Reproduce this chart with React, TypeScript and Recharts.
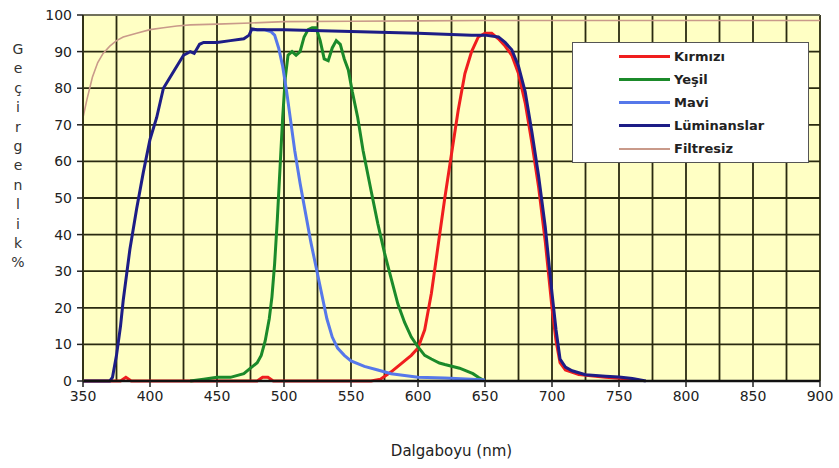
import { CartesianGrid, Line, LineChart, ReferenceLine, XAxis, YAxis } from "recharts";

const xTicks = [350, 400, 450, 500, 550, 600, 650, 700, 750, 800, 850, 900];
const xGrid = [350, 375, 400, 425, 450, 475, 500, 525, 550, 575, 600, 625, 650, 675, 700, 725, 750, 775, 800, 825, 850, 875, 900];
const yTicks = [0, 10, 20, 30, 40, 50, 60, 70, 80, 90, 100];
const yGrid = [10, 20, 30, 40, 50, 60, 70, 80, 90];

const kirmiziNm = [350, 370, 378, 382, 386, 400, 450, 480, 484, 488, 492, 500, 550, 565, 572, 576, 580, 585, 590, 595, 600, 605, 610, 615, 620, 625, 630, 635, 640, 645, 650, 655, 660, 665, 670, 675, 680, 685, 690, 695, 700, 703, 706, 710, 720, 740, 760];
const kirmiziT = [0, 0, 0, 1, 0, 0, 0, 0, 1, 1, 0, 0, 0, 0, 0.5, 1.5, 2.5, 4, 5.5, 7, 9, 14, 24, 37, 50, 62, 74, 84, 90, 94, 95, 95, 93.5, 91.5, 89, 84, 76, 65, 53, 38, 20, 11, 5, 3, 1.8, 1, 0.5];

const yesilNm = [430, 440, 450, 460, 470, 475, 480, 483, 486, 489, 491, 493, 495, 497, 499, 501, 503, 506, 509, 512, 515, 518, 521, 524, 527, 530, 533, 536, 539, 542, 545, 548, 551, 555, 559, 565, 570, 575, 580, 585, 590, 595, 600, 605, 610, 616, 620, 631, 641, 645, 650];
const yesilT = [0, 0.5, 1, 1, 2, 3.5, 5, 7, 11, 17, 23, 32, 44, 58, 72, 83, 89, 90, 89, 90, 94, 96, 96.5, 96.5, 93, 88, 87.5, 91, 93, 92, 88, 85, 79, 72, 63, 52, 43, 35, 28, 21, 16, 12, 9.3, 7, 6, 4.9, 4.5, 3.5, 2, 1, 0];

const maviNm = [476, 480, 485, 490, 493, 496, 499, 502, 505, 508, 512, 516, 520, 524, 528, 532, 536, 540, 545, 550, 560, 570, 580, 590, 600, 620, 640, 650];
const maviT = [96, 96, 96, 95.5, 94.5, 91, 86, 79, 71, 63, 54, 46, 38, 31, 24, 17, 12, 9, 7, 5.5, 4, 3, 2, 1.5, 1, 0.8, 0.5, 0.3];

const luminansNm = [350, 365, 370, 372, 375, 378, 380, 385, 390, 395, 400, 405, 410, 415, 420, 425, 430, 433, 437, 440, 450, 460, 470, 474, 476, 480, 500, 550, 600, 640, 650, 660, 665, 670, 675, 680, 685, 690, 695, 700, 703, 706, 710, 715, 725, 740, 750, 760, 770];
const luminansT = [0, 0, 0, 1, 7, 15, 22, 36, 47, 57, 66, 72, 80, 83, 86, 89, 90, 89.5, 92, 92.5, 92.5, 93, 93.5, 94.5, 96.2, 96, 96, 95.5, 95, 94.5, 94.5, 94, 92.5, 90.5, 86, 79, 68, 56, 42, 24, 14, 6, 3.8, 2.8, 1.7, 1.3, 1.1, 0.7, 0];

const filtresizNm = [350, 353, 357, 361, 365, 370, 375, 380, 390, 400, 410, 420, 430, 450, 475, 500, 550, 600, 650, 700, 750, 800, 850, 900];
const filtresizT = [72, 77, 83, 87, 89.5, 91.5, 93, 94, 95, 96, 96.5, 97, 97.3, 97.5, 97.8, 98.2, 98.3, 98.4, 98.5, 98.5, 98.5, 98.5, 98.5, 98.5];

const yLabel = ["G", "e", "ç", "i", "r", "g", "e", "n", "l", "i", "k", "%"];

const toPoints = (nm: number[], t: number[]) => nm.map((x, i) => ({ x, y: t[i] }));

const series = [
  { name: "Kırmızı", color: "#f01e1e", width: 3, data: toPoints(kirmiziNm, kirmiziT) },
  { name: "Yeşil", color: "#1b8a2a", width: 3, data: toPoints(yesilNm, yesilT) },
  { name: "Mavi", color: "#5678ea", width: 3, data: toPoints(maviNm, maviT) },
  { name: "Lüminanslar", color: "#1d1d86", width: 3, data: toPoints(luminansNm, luminansT) },
  { name: "Filtresiz", color: "#c99a8a", width: 1.6, data: toPoints(filtresizNm, filtresizT) },
];

const font = "DejaVu Sans";

// only every 50 nm gets a label and a tick mark; the 25 nm steps are grid only
function XTick({ x, y, payload }: any) {
  if (!xTicks.includes(payload.value)) return null;
  return (
    <g>
      <line x1={x} x2={x} y1={y - 9} y2={y - 3} stroke="#222" strokeWidth={1.5} />
      <text x={x} y={y} dy="0.75em" textAnchor="middle" fill="#222" fontSize={14} fontFamily={font}>
        {payload.value}
      </text>
    </g>
  );
}

function LegendBox() {
  return (
    <div
      style={{
        position: "absolute",
        left: 572,
        top: 42,
        width: 237,
        height: 121,
        background: "#fff",
        border: "1.5px solid #555",
        boxSizing: "border-box",
        paddingTop: 2,
      }}
    >
      {series.map((s) => (
        <div key={s.name} style={{ display: "flex", alignItems: "center", height: 23 }}>
          <span
            style={{
              marginLeft: 46,
              width: 51,
              height: s.width > 2 ? 3 : 2,
              background: s.color,
              display: "inline-block",
            }}
          />
          <span style={{ marginLeft: 4, fontFamily: font, fontSize: 13, fontWeight: "bold", color: "#222" }}>
            {s.name}
          </span>
        </div>
      ))}
    </div>
  );
}

export default function App() {
  return (
    <div style={{ position: "relative", width: 839, height: 468, background: "#fff" }}>
      <style>{`body{margin:0}`}</style>
      <div
        style={{
          position: "absolute",
          left: 8,
          top: 40,
          width: 20,
          fontFamily: font,
          fontSize: 14,
          color: "#333",
          textAlign: "center",
          lineHeight: "19.4px",
        }}
      >
        {yLabel.map((c, i) => (
          <div key={i}>{c}</div>
        ))}
      </div>
      <LineChart width={839} height={468} margin={{ top: 15, right: 19, bottom: 0, left: 0 }}>
        <CartesianGrid yAxisId="grid" fill="#ffffc4" fillOpacity={1} stroke="#2a2a10" strokeWidth={1.8} />
        <ReferenceLine y={100} stroke="#b8b8a8" strokeWidth={1} />
        <YAxis yAxisId="grid" type="number" domain={[0, 100]} ticks={yGrid} allowDataOverflow hide />
        <XAxis
          dataKey="x"
          type="number"
          domain={[350, 900]}
          ticks={xGrid}
          interval={0}
          allowDataOverflow
          height={87}
          tick={<XTick />}
          tickLine={false}
          tickSize={6}
          tickMargin={3}
          axisLine={{ stroke: "#111", strokeWidth: 2.5 }}
          label={{
            value: "Dalgaboyu (nm)",
            position: "insideBottom",
            offset: 12,
            fill: "#222",
            fontSize: 15,
            fontFamily: font,
          }}
        />
        <YAxis
          type="number"
          domain={[0, 100]}
          ticks={yTicks}
          width={83}
          tick={{ fill: "#222", fontSize: 14, fontFamily: font }}
          tickSize={6}
          tickMargin={5}
          tickLine={{ stroke: "#222", strokeWidth: 1.5 }}
          axisLine={{ stroke: "#333318", strokeWidth: 2 }}
        />
        {series.map((s) => (
          <Line
            key={s.name}
            data={s.data}
            dataKey="y"
            name={s.name}
            type="linear"
            stroke={s.color}
            strokeWidth={s.width}
            dot={false}
            activeDot={false}
            isAnimationActive={false}
          />
        ))}
      </LineChart>
      <LegendBox />
    </div>
  );
}
